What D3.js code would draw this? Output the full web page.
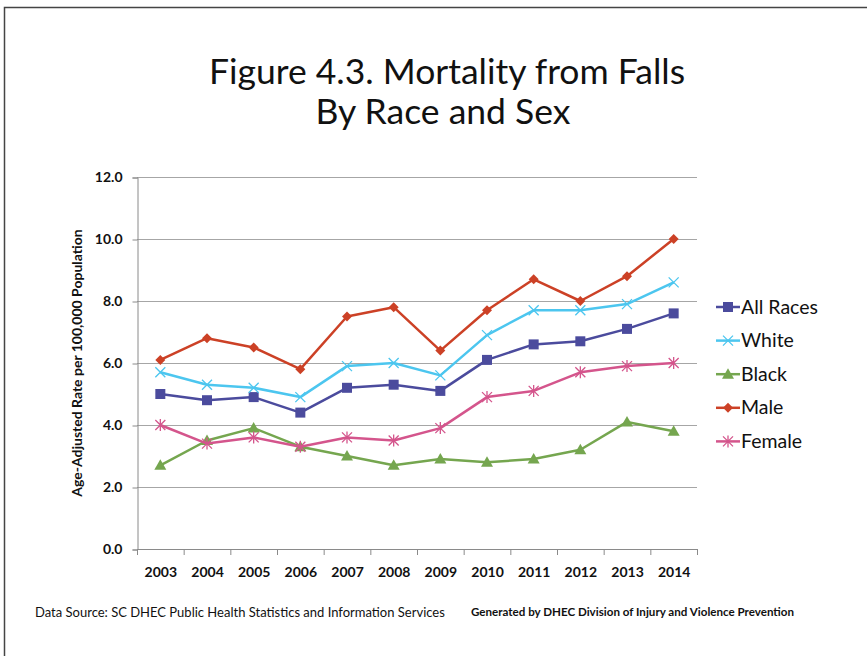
<!DOCTYPE html>
<html><head><meta charset="utf-8">
<script src="https://cdn.jsdelivr.net/npm/d3@7"></script>
<style>body{margin:0;background:#fff}svg{display:block}text{font-family:Lato,"Open Sans",sans-serif}</style>
</head><body><svg id="c" width="867" height="656"></svg>
<script>
const years = ["2003","2004","2005","2006","2007","2008","2009","2010","2011","2012","2013","2014"];
const allRaces = [5.0,4.8,4.9,4.4,5.2,5.3,5.1,6.1,6.6,6.7,7.1,7.6];
const white = [5.7,5.3,5.2,4.9,5.9,6.0,5.6,6.9,7.7,7.7,7.9,8.6];
const black = [2.7,3.5,3.9,3.3,3.0,2.7,2.9,2.8,2.9,3.2,4.1,3.8];
const male = [6.1,6.8,6.5,5.8,7.5,7.8,6.4,7.7,8.7,8.0,8.8,10.0];
const female = [4.0,3.4,3.6,3.3,3.6,3.5,3.9,4.9,5.1,5.7,5.9,6.0];
const yTicks = [0,2,4,6,8,10,12];

const series = [
  {name:"All Races", values:allRaces, color:"#4b4b9d", marker:"square"},
  {name:"White", values:white, color:"#4cc6ef", marker:"x"},
  {name:"Black", values:black, color:"#75a64f", marker:"triangle"},
  {name:"Male", values:male, color:"#cc4126", marker:"diamond"},
  {name:"Female", values:female, color:"#d4558c", marker:"asterisk"}
];

const svg = d3.select("#c");
svg.append("path").attr("d","M4.5,656 L4.5,7.5 L867,7.5").attr("fill","none").attr("stroke","#444").attr("stroke-width",1.5);

svg.append("text").attr("x",447).attr("y",84).attr("text-anchor","middle").attr("font-size",35.5).attr("fill","#111").text("Figure 4.3. Mortality from Falls");
svg.append("text").attr("x",443).attr("y",124).attr("text-anchor","middle").attr("font-size",35.5).attr("fill","#111").text("By Race and Sex");

const L=137, R=697, T=177, B=549;
const x = d3.scaleBand().domain(years).range([L,R]);
const y = d3.scaleLinear().domain([0,12]).range([B,T]);

svg.append("g").selectAll("line").data(yTicks.filter(d=>d>0)).join("line")
  .attr("x1",L).attr("x2",R).attr("y1",d=>y(d)+0.5).attr("y2",d=>y(d)+0.5)
  .attr("stroke","#a6a6a6").attr("stroke-width",1);

const ya = svg.append("g").attr("transform",`translate(${L+0.5},0.5)`)
  .call(d3.axisLeft(y).tickValues(yTicks).tickFormat(d3.format(".1f")).tickSizeOuter(0).tickSize(5).tickPadding(10));
ya.select(".domain").attr("stroke","#8a8a8a");
ya.selectAll(".tick line").attr("stroke","#8a8a8a");
ya.selectAll("text").attr("font-size",14).attr("font-weight","bold").attr("fill","#111").style("font-family","Lato,sans-serif");

const xa = svg.append("g").attr("transform",`translate(0.5,${B+0.5})`)
  .call(d3.axisBottom(x).tickSize(0).tickSizeOuter(0).tickPadding(18));
xa.select(".domain").attr("stroke","#8a8a8a").attr("d",`M${L},0H${R}`);
xa.selectAll("text").attr("font-size",14).attr("font-weight","bold").attr("fill","#111").style("font-family","Lato,sans-serif");
svg.append("g").selectAll("line").data(years.map(d=>x(d)).concat([R])).join("line")
  .attr("x1",d=>d+0.5).attr("x2",d=>d+0.5).attr("y1",B).attr("y2",B+6).attr("stroke","#8a8a8a");

svg.append("text").attr("transform","translate(82,363) rotate(-90)").attr("text-anchor","middle")
  .attr("font-size",14).attr("font-weight","bold").attr("fill","#111").text("Age-Adjusted Rate per 100,000 Population");

function drawMarker(g, type, color){
  if(type==="square") g.append("rect").attr("x",-5).attr("y",-5).attr("width",10).attr("height",10).attr("fill",color);
  else if(type==="diamond") g.append("path").attr("d","M0,-5L5,0L0,5L-5,0Z").attr("fill",color);
  else if(type==="triangle") g.append("path").attr("d","M0,-6L6,4.5L-6,4.5Z").attr("fill",color);
  else if(type==="x") g.append("path").attr("d","M-5,-5L5,5M-5,5L5,-5").attr("stroke",color).attr("stroke-width",1.3);
  else if(type==="asterisk") g.append("path").attr("d","M-5,-5L5,5M-5,5L5,-5M0,-6L0,6").attr("stroke",color).attr("stroke-width",1.3);
}

const cx = d=>x(d)+x.bandwidth()/2;
const line = d3.line().x((d,i)=>cx(years[i])).y(d=>y(d));
series.forEach(s=>{
  svg.append("path").datum(s.values).attr("d",line).attr("fill","none").attr("stroke",s.color).attr("stroke-width",2.5).attr("stroke-linejoin","round");
  s.values.forEach((v,i)=>{
    const g = svg.append("g").attr("transform",`translate(${cx(years[i])},${y(v)})`);
    drawMarker(g, s.marker, s.color);
  });
});

series.forEach((s,i)=>{
  const ly = 307 + i*33.6;
  svg.append("line").attr("x1",716).attr("x2",740).attr("y1",ly).attr("y2",ly).attr("stroke",s.color).attr("stroke-width",2.5);
  const g = svg.append("g").attr("transform",`translate(728,${ly})`);
  drawMarker(g, s.marker, s.color);
  svg.append("text").attr("x",741).attr("y",ly+6.5).attr("font-size",19.5).attr("fill","#111").text(s.name);
});

svg.append("text").attr("x",35).attr("y",617).attr("font-size",13).attr("fill","#111").text("Data Source:  SC DHEC Public Health Statistics and Information Services");
svg.append("text").attr("x",471).attr("y",616).attr("font-size",11.6).attr("font-weight","bold").attr("fill","#111").text("Generated by DHEC Division of Injury and Violence Prevention");
</script></body></html>
